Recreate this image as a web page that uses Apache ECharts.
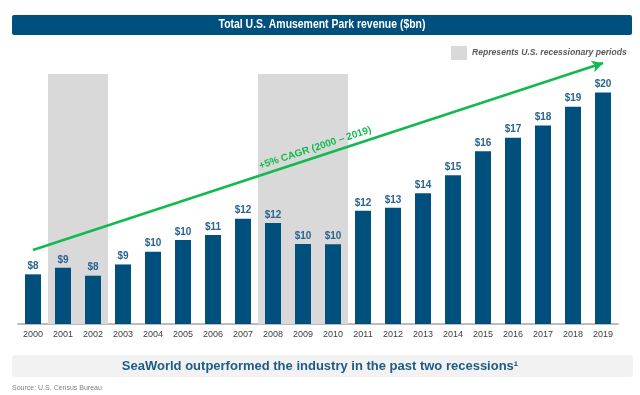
<!DOCTYPE html>
<html>
<head>
<meta charset="utf-8">
<script src="https://cdn.jsdelivr.net/npm/echarts@6/dist/echarts.min.js"></script>
<style>html,body{margin:0;padding:0;background:#fff}#c{width:640px;height:395px}</style>
</head>
<body>
<div id="c"></div>
<script>
const years = ['2000','2001','2002','2003','2004','2005','2006','2007','2008','2009','2010','2011','2012','2013','2014','2015','2016','2017','2018','2019'];
const revenue = [8.11, 8.55, 8.02, 8.77, 9.62, 10.40, 10.73, 11.82, 11.53, 10.13, 10.11, 12.35, 12.55, 13.51, 14.71, 16.31, 17.22, 18.04, 19.29, 20.24];
const recessionYears = ['2001','2002','2008','2009','2010'];
const recessionBandTop = 21.47;
const cagrStart = ['2000', 9.73];
const cagrEnd = ['2019', 22.2];
const titleText = 'Total U.S. Amusement Park revenue ($bn)';
const legendText = 'Represents U.S. recessionary periods';
const cagrText = '+5% CAGR (2000 \u2013 2019)';
const bannerText = 'SeaWorld outperformed the industry in the past two recessions\u00b9';
const sourceText = 'Source: U.S. Census Bureau';

const FONT = '"Liberation Sans", Arial, sans-serif';
const chart = echarts.init(document.getElementById('c'), null, {renderer: 'canvas'});
const bandData = years.map(y => recessionYears.includes(y) ? recessionBandTop : null);

chart.setOption({
  animation: false,
  grid: {left: 18, right: 22, top: 63, bottom: 71},
  xAxis: [
    {type: 'category', data: years, boundaryGap: true,
     axisLine: {lineStyle: {color: '#a6a6a6', width: 1.5}},
     axisTick: {show: false},
     axisLabel: {color: '#404040', fontSize: 9, fontFamily: FONT, margin: 6}},
    {type: 'category', data: years, show: false}
  ],
  yAxis: [{type: 'value', min: 4.8, max: 22.2, show: false, splitLine: {show: false}}],
  series: [
    {type: 'bar', name: 'recession', xAxisIndex: 1, data: bandData, barWidth: '100%',
     itemStyle: {color: '#d9d9d9'}, silent: true, z: 1},
    {type: 'bar', name: 'revenue', data: revenue, barWidth: 16, z: 3,
     itemStyle: {color: '#004f7c'},
     label: {show: true, position: 'top', distance: 3, color: '#2a6490', fontWeight: 'bold',
             fontSize: 10, fontFamily: FONT, formatter: p => '$' + Math.round(p.value)},
     markLine: {silent: true, symbol: ['none', 'arrow'], symbolSize: [9, 11],
       lineStyle: {color: '#11b94f', width: 2.5, type: 'solid'},
       label: {show: true, position: 'insideMiddleTop', formatter: cagrText, color: '#11b94f',
               fontWeight: 'bold', fontSize: 10, fontFamily: FONT, distance: 4},
       data: [[{coord: cagrStart}, {coord: cagrEnd}]]}
    }
  ],
  graphic: [
    {type: 'rect', shape: {x: 12, y: 15, width: 620, height: 20, r: 2}, style: {fill: '#00507d'}},
    {type: 'text', x: 322, y: 25, scaleX: 0.87, style: {text: titleText, fill: '#ffffff', font: 'bold 12px ' + FONT, align: 'center', verticalAlign: 'middle'}},
    {type: 'rect', shape: {x: 451, y: 46, width: 16, height: 14}, style: {fill: '#d9d9d9'}},
    {type: 'text', x: 472, y: 53, style: {text: legendText, fill: '#595959', font: 'italic bold 8.6px ' + FONT, align: 'left', verticalAlign: 'middle'}},
    {type: 'rect', shape: {x: 12, y: 355, width: 621, height: 22, r: 3}, style: {fill: '#f2f2f2'}},
    {type: 'text', x: 320, y: 366, style: {text: bannerText, fill: '#1d5c85', font: 'bold 13px ' + FONT, align: 'center', verticalAlign: 'middle'}},
    {type: 'text', x: 12, y: 388, style: {text: sourceText, fill: '#7f7f7f', font: '7px ' + FONT, align: 'left', verticalAlign: 'middle'}}
  ]
});
</script>
</body>
</html>
